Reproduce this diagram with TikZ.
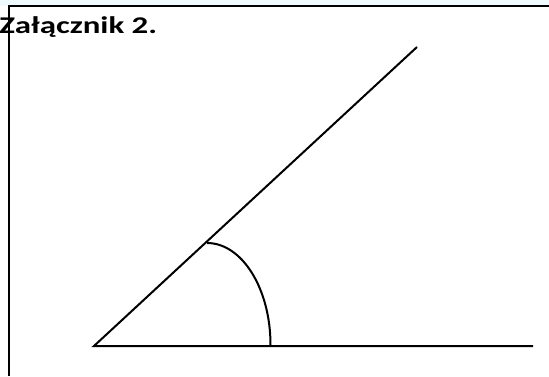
\documentclass[tikz,border=0pt]{standalone}
\usepackage{fontspec}
\setmainfont{Carlito}
\usetikzlibrary{positioning}
\definecolor{paleblue}{RGB}{240,251,255}

\begin{document}
\begin{tikzpicture}[
    x=1pt, y=1pt,
    leg/.style={draw=black, line width=2pt},
    frameline/.style={draw=black, line width=2.3pt},
    heading/.style={font=\bfseries\fontsize{24}{29}\selectfont, anchor=base west,
                    inner sep=0pt, xscale=1.37, transform shape}
]
    \useasboundingbox (0,0) rectangle (549,376);
    \fill[paleblue] (0,370) rectangle (549,376);

    % frame
    \coordinate (frametr) at (549,370);
    \coordinate (frametl) at (9,370);
    \coordinate (framebl) at (9,0);
    \draw[frameline] (frametr) -- (frametl) -- (framebl);

    \node[heading] (title) at (-1,343) {Załącznik 2.};

    % angle
    \coordinate (apex) at (94,30);
    \coordinate (armtop) at (417,329);
    \coordinate (armright) at (533,30);
    \coordinate (arctop) at (207,133);
    \draw[leg] (armtop) -- (apex) -- (armright);
    \draw[leg] (arctop) arc[start angle=90, end angle=0, x radius=63.5, y radius=102];
\end{tikzpicture}
\end{document}
